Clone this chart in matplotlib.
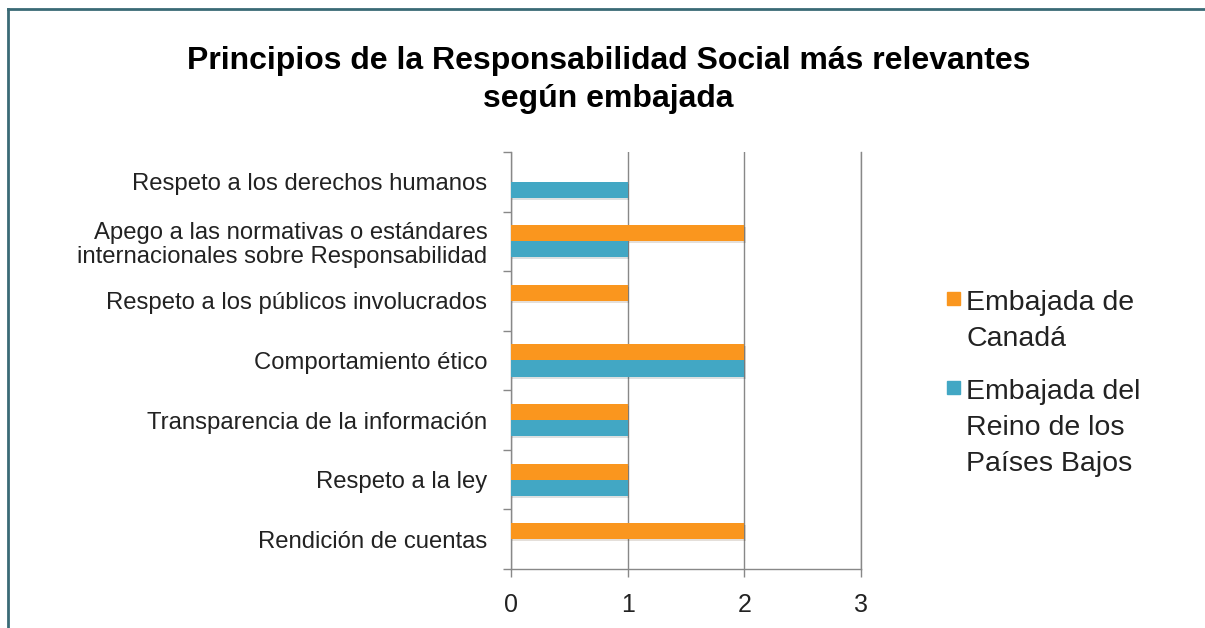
import numpy as np
import matplotlib
matplotlib.use('Agg')
import matplotlib.pyplot as plt
import matplotlib.patheffects as pe
from matplotlib.lines import Line2D
from matplotlib.patches import Rectangle

plt.rcParams['font.family'] = ['Liberation Sans', 'DejaVu Sans']

# categories listed bottom to top
categories = [
    'Rendición de cuentas',
    'Respeto a la ley',
    'Transparencia de la información',
    'Comportamiento ético',
    'Respeto a los públicos involucrados',
    'Apego a las normativas o estándares\ninternacionales sobre Responsabilidad',
    'Respeto a los derechos humanos',
]
canada = [2, 1, 1, 2, 1, 2, 0]
paises_bajos = [0, 1, 1, 2, 0, 1, 1]
series_names = ['Embajada de\nCanadá', 'Embajada del\nReino de los\nPaíses Bajos']
colors = ['#FA961E', '#42A7C4']
x_ticks = [0, 1, 2, 3]

fig = plt.figure(figsize=(12.05, 6.28), dpi=100)
ax = fig.add_axes([0.424, 0.094, 0.2905, 0.664])

y = np.arange(len(categories))
h = 0.27
shadow = [pe.SimplePatchShadow(offset=(1, -1.5), alpha=0.15), pe.Normal()]
ax.barh(y + h / 2, canada, height=h, color=colors[0], path_effects=shadow, zorder=3)
ax.barh(y - h / 2, paises_bajos, height=h, color=colors[1], path_effects=shadow, zorder=3)

ax.set_xlim(0, 3)
ax.set_ylim(-0.5, len(categories) - 0.5)
ax.set_xticks(x_ticks)
ax.set_xticklabels([str(t) for t in x_ticks], fontsize=18, color='#222222')
ax.tick_params(axis='x', length=6, width=1, color='#888888', pad=11)

ax.set_yticks(y)
ax.set_yticklabels(categories, fontsize=17.2, color='#222222', linespacing=1.12)
ax.set_yticks(np.arange(-0.5, len(categories)), minor=True)
ax.tick_params(axis='y', which='major', length=0, pad=17)
ax.tick_params(axis='y', which='minor', length=6, width=1, color='#888888')

ax.grid(axis='x', color='#888888', lw=1, zorder=0)
ax.set_axisbelow(True)
ax.spines['top'].set_visible(False)
for s in ['left', 'bottom', 'right']:
    ax.spines[s].set_color('#888888')
    ax.spines[s].set_linewidth(1)

fig.text(0.505, 0.873, 'Principios de la Responsabilidad Social más relevantes\nsegún embajada',
         ha='center', va='center', fontsize=23, fontweight='bold', linespacing=1.35)

# legend drawn beside the plot
leg_y = [0.514, 0.373]
for name, c, ly in zip(series_names, colors, leg_y):
    fig.patches.append(Rectangle((0.786, ly), 0.0108, 0.0207, transform=fig.transFigure,
                                 color=c, figure=fig))
    fig.text(0.802, ly + 0.024, name, ha='left', va='top', fontsize=20.5,
             color='#222222', linespacing=1.5)

# frame
fig.add_artist(Line2D([0.007, 0.007], [0, 0.985], transform=fig.transFigure,
                      color='#3A6A76', lw=2))
fig.add_artist(Line2D([0.007, 1], [0.985, 0.985], transform=fig.transFigure,
                      color='#3A6A76', lw=2))

fig.savefig('out.png', dpi=100, facecolor='white')
